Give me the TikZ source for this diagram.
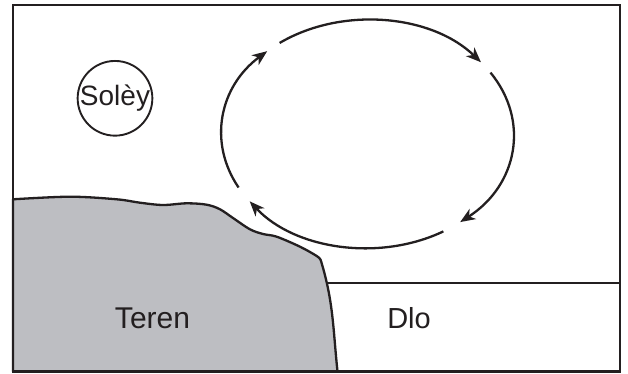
\documentclass[tikz,border=0pt]{standalone}
\usepackage{fontspec}
\setmainfont{Liberation Sans}
\usetikzlibrary{arrows.meta}
\definecolor{ink}{RGB}{35,31,32}
\definecolor{landgray}{RGB}{189,190,194}
\begin{document}
\begin{tikzpicture}[x=1pt,y=1pt,
  frame/.style={draw=ink, line width=2.4pt},
  cyc/.style={draw=ink, line width=2.3pt, -{Stealth[length=15pt,width=12pt,inset=4.5pt]}},
  txt/.style={text=ink, inner sep=0pt},
]
\useasboundingbox (0,0) rectangle (628,373);
\coordinate (fr-sw) at (13,1.5);
\coordinate (fr-ne) at (620,368);
\coordinate (wl) at (322,90);
\coordinate (wr) at (620,90);
\coordinate (ec) at (367.5,239);
% water surface
\draw[ink, line width=2.1pt] (wl) -- (wr);
% land
\filldraw[fill=landgray, draw=ink, line width=2.3pt, line join=round]
  plot[smooth, tension=0.55] coordinates {(13,173.7) (70,176.3) (116.7,173.7) (140,170.3) (163,168) (186.7,169.7) (206.7,168.3) (220,163.7) (233,155) (250,143.7) (263,139) (276.7,136.3) (300,126.3) (316.7,117) (320.7,113)}
  to[out=-73,in=96] (337.5,1.5) -- (13,1.5) -- cycle;
% frame
\draw[frame] (fr-sw) rectangle (fr-ne);
% cycle arrows
\begin{scope}[shift={(ec)}]
\draw[cyc] (127:146 and 114) arc[start angle=127, end angle=39, x radius=146, y radius=114];
\draw[cyc] (32.6:146 and 114) arc[start angle=32.6, end angle=-50.6, x radius=146, y radius=114];
\draw[cyc] (-58.7:146 and 114) arc[start angle=-58.7, end angle=-143.8, x radius=146, y radius=114];
\draw[cyc] (208:146 and 114) arc[start angle=208, end angle=133.4, x radius=146, y radius=114];
\end{scope}
% labels
\node[txt, font=\fontsize{28}{30}\selectfont, circle, draw=ink, line width=1.9pt, minimum size=74pt] (sun) at (115,274.7) {Solèy};
\node[txt, font=\fontsize{30}{32}\selectfont, anchor=base] (teren) at (152.5,44.5) {Teren};
\node[txt, font=\fontsize{29}{31}\selectfont, anchor=base] (dlo) at (409,44.5) {Dlo};
\end{tikzpicture}
\end{document}
